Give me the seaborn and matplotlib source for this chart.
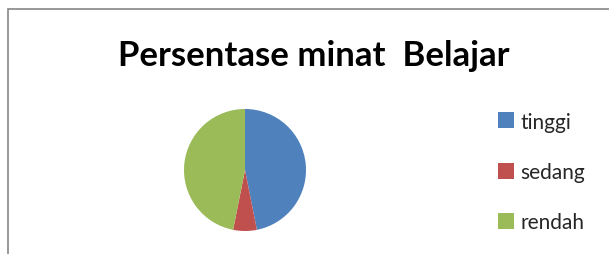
import matplotlib
matplotlib.use("Agg")
import matplotlib.pyplot as plt
import seaborn as sns
from matplotlib.patches import Rectangle
from matplotlib.lines import Line2D

# -------------------- Data --------------------
categories = ["tinggi", "sedang", "rendah"]
values = [15, 2, 15]
colors = ["#4F81BD", "#C0504D", "#9BBB59"]
title = "Persentase minat  Belajar"

sns.set_style("white")
plt.rcParams["font.family"] = ["Lato", "DejaVu Sans"]

W, H = 609, 255
fig = plt.figure(figsize=(W / 100, H / 100), dpi=100)

# chart frame (cropped at right and bottom like the reference)
fig.patches.append(Rectangle((8 / W, -0.2), 1.2, (H - 10) / H + 0.2,
                             transform=fig.transFigure, fill=False,
                             edgecolor="#868686", linewidth=1.2))

# -------------------- Pie --------------------
cx, cy, r = 245, 171, 61
ax = fig.add_axes([(cx - r) / W, (H - cy - r) / H, 2 * r / W, 2 * r / H])
wedges, _ = ax.pie(values, colors=colors, startangle=90, counterclock=False,
                   radius=1, wedgeprops={"linewidth": 0})
ax.set_xlim(-1, 1)
ax.set_ylim(-1, 1)
ax.set_aspect("auto")
ax.axis("off")

fig.text(314 / W, (H - 56) / H, title, ha="center", va="center",
         fontsize=25, fontweight="bold", color="black")

# square legend markers, ~14 px
handles = [Line2D([], [], linestyle="none", marker="s", markersize=12,
                  markerfacecolor=c, markeredgewidth=0) for c in colors]
leg = fig.legend(handles, categories, loc="center left",
                 bbox_to_anchor=(487 / W, (H - 173) / H), frameon=False,
                 fontsize=15, handlelength=0.8, handletextpad=0.3,
                 labelspacing=1.45, borderpad=0)

fig.savefig("out.png", dpi=100)
